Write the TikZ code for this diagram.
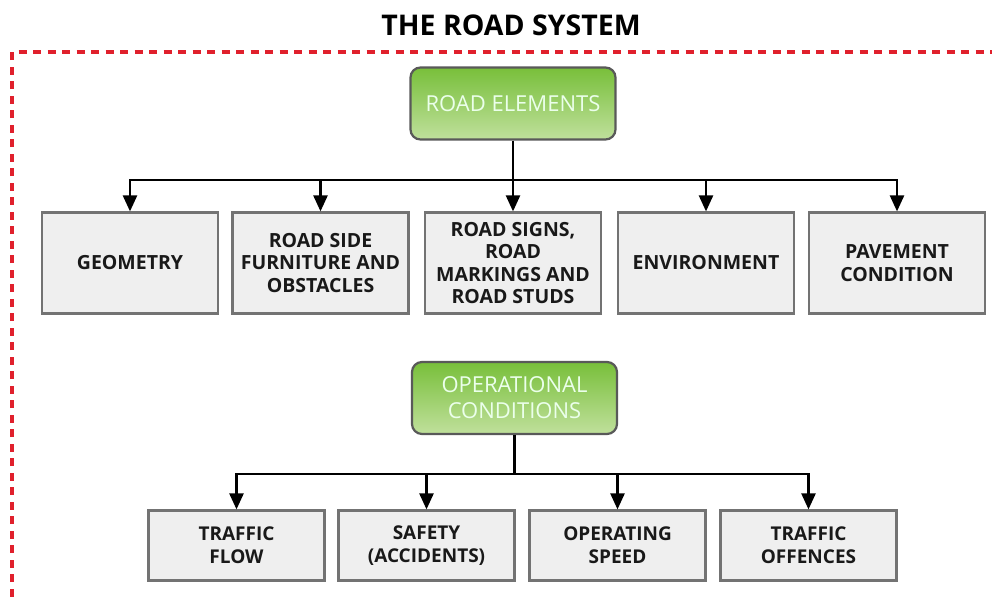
\documentclass[tikz,border=0pt]{standalone}
\usepackage{fontspec}
\setmainfont{Open Sans}
\usetikzlibrary{positioning, arrows.meta}

\definecolor{framered}{HTML}{E0202C}
\definecolor{greentop}{HTML}{78BF3A}
\definecolor{greenbot}{HTML}{C0E09C}
\definecolor{boxgray}{HTML}{EFEFEF}

\begin{document}
\begin{tikzpicture}[
    x=1pt, y=-1pt,
    every node/.style={align=center, inner sep=0pt},
    group/.style={draw=black!65, line width=2.2pt, rounded corners=10pt, top color=greentop, bottom color=greenbot,
        minimum width=205pt, minimum height=72pt, text=white!92!green, font=\fontsize{22}{26}\selectfont},
    item/.style={draw=black!55, line width=2.2pt, fill=boxgray, minimum width=176pt, minimum height=101pt,
        text=black!90, font=\bfseries\fontsize{19.5}{22.5}\selectfont},
    small item/.style={item, minimum height=70pt, font=\bfseries\fontsize{19}{23}\selectfont},
    link/.style={draw, line width=2.4pt, -{Triangle[length=16pt,width=14pt]}},
    bus/.style={draw, line width=2.4pt}
]
\useasboundingbox (0,0) rectangle (992,600);

% frame and title
\draw[framered, line width=3.6pt, dash pattern=on 8pt off 6.5pt] (12,640) -- (12,52) -- (1010,52);
\node[font=\bfseries\fontsize{28.5}{32}\selectfont] (title) at (511,25) {THE ROAD SYSTEM};

% road elements
\node[group] (elements) at (513,103.5) {ROAD ELEMENTS};
\node[item] (geometry) at (130,263) {GEOMETRY};
\node[item] (furniture) at (320.5,263) {ROAD SIDE\\FURNITURE AND\\OBSTACLES};
\node[item] (signs) at (513,263) {ROAD SIGNS,\\ROAD\\MARKINGS AND\\ROAD STUDS};
\node[item] (environment) at (706,263) {ENVIRONMENT};
\node[item] (pavement) at (897,263) {PAVEMENT\\CONDITION};

\coordinate (bus1) at (513,180);
\draw[bus] (elements.south) -- (bus1);
\draw[link] (bus1) -| (geometry.north);
\draw[link] (bus1) -| (furniture.north);
\draw[link] (bus1) -- (signs.north);
\draw[link] (bus1) -| (environment.north);
\draw[link] (bus1) -| (pavement.north);

% operational conditions
\node[group] (operational) at (514.5,398) {OPERATIONAL\\CONDITIONS};
\node[small item] (flow) at (236.5,545.5) {TRAFFIC\\FLOW};
\node[small item] (safety) at (426.5,545.5) {SAFETY\\(ACCIDENTS)};
\node[small item] (speed) at (617.5,545.5) {OPERATING\\SPEED};
\node[small item] (offences) at (808.5,545.5) {TRAFFIC\\OFFENCES};

\coordinate (bus2) at (514.5,474);
\draw[bus] (operational.south) -- (bus2);
\draw[link] (bus2) -| (flow.north);
\draw[link] (bus2) -| (safety.north);
\draw[link] (bus2) -| (speed.north);
\draw[link] (bus2) -| (offences.north);
\end{tikzpicture}
\end{document}
